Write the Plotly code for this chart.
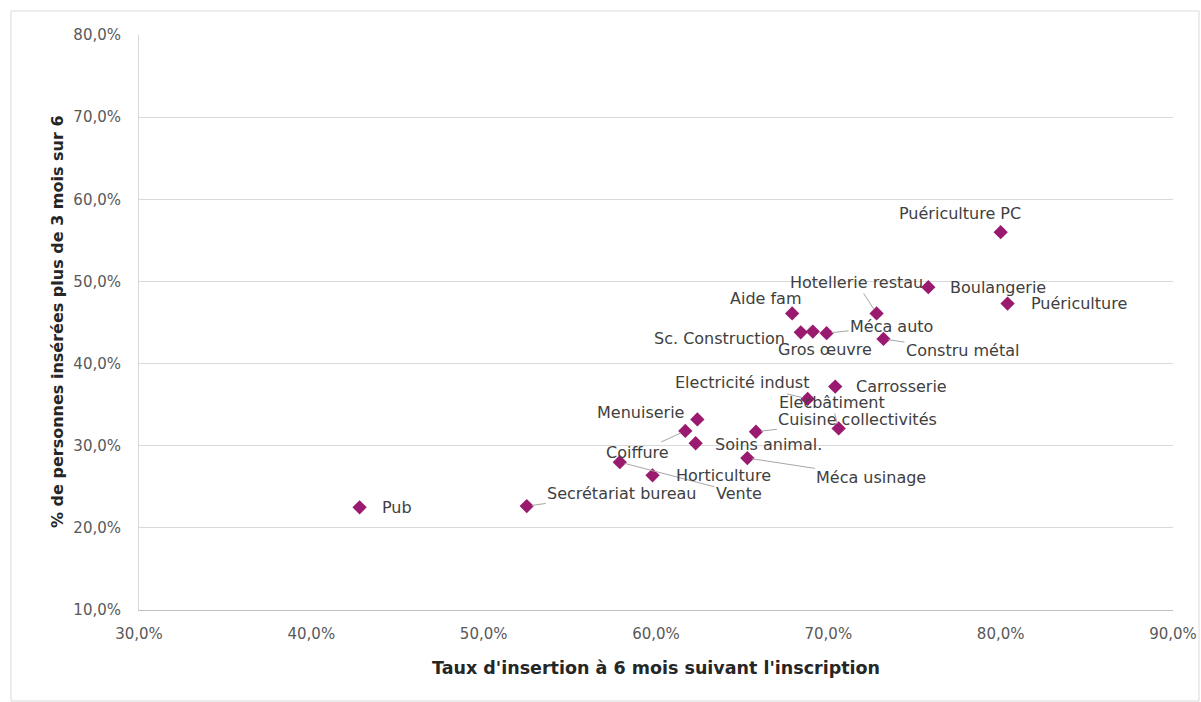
import plotly.graph_objects as go

# ---- data ----
labels = ["Pub", "Secrétariat bureau", "Vente", "Horticulture", "Coiffure", "Menuiserie",
          "Soins animal.", "Méca usinage", "Cuisine collectivités", "Electricité indust",
          "Carrosserie", "Elecbâtiment", "Aide fam", "Sc. Construction", "Gros œuvre",
          "Méca auto", "Hotellerie restau", "Constru métal", "Boulangerie",
          "Puériculture PC", "Puériculture"]
taux_insertion = [0.428, 0.525, 0.579, 0.598, 0.617, 0.624,
                  0.623, 0.653, 0.658, 0.688,
                  0.704, 0.706, 0.679, 0.684, 0.691,
                  0.699, 0.728, 0.732, 0.758,
                  0.800, 0.804]
pct_3mois = [0.225, 0.2265, 0.280, 0.264, 0.318, 0.332,
             0.303, 0.285, 0.317, 0.357,
             0.372, 0.321, 0.461, 0.438, 0.439,
             0.437, 0.461, 0.430, 0.493,
             0.560, 0.473]
x_ticks = [0.3, 0.4, 0.5, 0.6, 0.7, 0.8, 0.9]
y_ticks = [0.1, 0.2, 0.3, 0.4, 0.5, 0.6, 0.7, 0.8]

# ---- label placement (pixel offsets of label centre from point; line = leader line) ----
label_pos = {
    "Pub": (37, 0, False),
    "Secrétariat bureau": (95, -13, True),
    "Vente": (119, 31, True),
    "Horticulture": (71, 0, False),
    "Coiffure": (-48, 22, True),
    "Menuiserie": (-57, -7, False),
    "Soins animal.": (73, 1, False),
    "Méca usinage": (124, 19, True),
    "Cuisine collectivités": (102, -12, True),
    "Electricité indust": (-66, -16, True),
    "Carrosserie": (66, 0, False),
    "Elecbâtiment": (-7, -26, True),
    "Aide fam": (-26, -15, False),
    "Sc. Construction": (-81, 6, False),
    "Gros œuvre": (12, 18, False),
    "Méca auto": (65, -7, True),
    "Hotellerie restau": (-20, -31, True),
    "Constru métal": (79, 12, True),
    "Boulangerie": (70, 0, False),
    "Puériculture PC": (-41, -19, False),
    "Puériculture": (71, 0, False),
}

W, H = 1201, 702
L, R, T, B = 139, 28, 35, 92
PW, PH = W - L - R, H - T - B
marker_color = "#991a6f"
label_font = dict(family="DejaVu Sans", size=16, color="#404040")

fig = go.Figure()
fig.add_trace(go.Scatter(
    x=taux_insertion, y=pct_3mois, mode="markers",
    marker=dict(symbol="diamond", size=11, color=marker_color),
    text=labels, hoverinfo="text", showlegend=False,
))

annotations = []
for name, xv, yv in zip(labels, taux_insertion, pct_3mois):
    dx, dy, line = label_pos[name]
    if line:
        annotations.append(dict(
            x=xv, y=yv, xref="x", yref="y", text=name, showarrow=True,
            ax=dx, ay=dy, arrowhead=0, arrowwidth=1, arrowcolor="#a6a6a6",
            standoff=5, font=label_font))
    else:
        annotations.append(dict(
            x=xv, y=yv, xref="x", yref="y", text=name, showarrow=False,
            xshift=dx, yshift=-dy, font=label_font))

# axis titles
annotations.append(dict(
    x=(656 - L) / PW, y=(H - B - 668) / PH, xref="paper", yref="paper",
    xanchor="center", yanchor="middle",
    text="Taux d'insertion à 6 mois suivant l'inscription", showarrow=False,
    font=dict(family="DejaVu Sans", size=17.5, color="#262626", weight="bold")))
annotations.append(dict(
    x=(57 - L) / PW, y=(H - B - 322) / PH, xref="paper", yref="paper",
    xanchor="center", yanchor="middle",
    text="% de personnes insérées plus de 3 mois sur 6", showarrow=False, textangle=-90,
    font=dict(family="DejaVu Sans", size=16, color="#262626", weight="bold")))

shapes = [dict(type="rect", xref="paper", yref="paper",
               x0=(11 - L) / PW, x1=(1199 - L) / PW,
               y0=(H - B - 701) / PH, y1=(H - B - 11) / PH,
               line=dict(color="#d9d9d9", width=1), fillcolor="rgba(0,0,0,0)", layer="below")]

fig.update_layout(
    width=W, height=H,
    margin=dict(l=L, r=R, t=T, b=B, autoexpand=False),
    paper_bgcolor="white", plot_bgcolor="white",
    separators=", ",
    annotations=annotations, shapes=shapes,
    xaxis=dict(range=[0.3, 0.9], tickvals=x_ticks, tickformat=".1%",
               showgrid=False, zeroline=False, showline=True, linecolor="#bfbfbf",
               ticks="", ticklabelstandoff=10,
               tickfont=dict(family="DejaVu Sans", size=15, color="#595959")),
    yaxis=dict(range=[0.1, 0.8], tickvals=y_ticks, tickformat=".1%",
               showgrid=True, gridcolor="#d9d9d9", gridwidth=1, zeroline=False,
               showline=True, linecolor="#d9d9d9", mirror=False,
               ticks="", ticklabelstandoff=14,
               tickfont=dict(family="DejaVu Sans", size=15, color="#595959")),
)

fig.write_html("out.html")
